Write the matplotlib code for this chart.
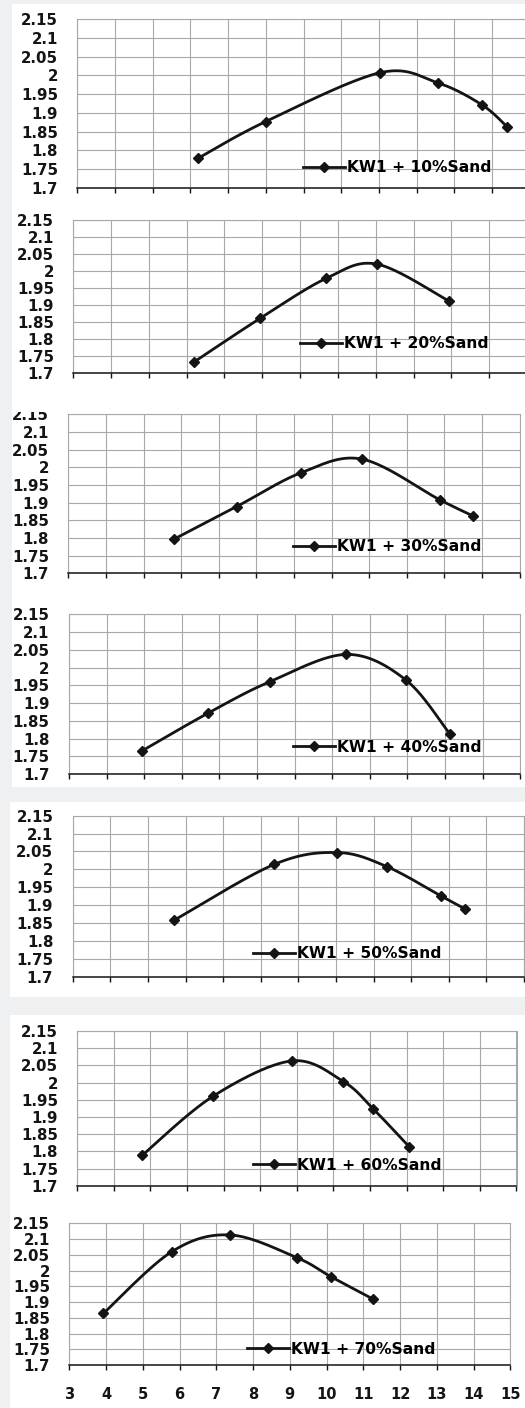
import numpy as np
import matplotlib.pyplot as plt
from matplotlib.patches import Rectangle
from matplotlib.lines import Line2D
from matplotlib.ticker import FuncFormatter

plt.rcParams['font.family'] = ['DejaVu Sans']
plt.rcParams['font.weight'] = 'bold'

W, H = 525, 1408

# Water content (%) and dry density for each sand mix
mixes = ['KW1 + 10%Sand', 'KW1 + 20%Sand', 'KW1 + 30%Sand', 'KW1 + 40%Sand',
         'KW1 + 50%Sand', 'KW1 + 60%Sand', 'KW1 + 70%Sand']

w_10 = [6.2, 8.0, 11.03, 12.56, 13.74, 14.41]
d_10 = [1.779, 1.877, 2.007, 1.980, 1.921, 1.862]

w_20 = [6.2, 7.94, 9.69, 11.03, 12.94]
d_20 = [1.732, 1.860, 1.978, 2.020, 1.911]

w_30 = [5.80, 7.48, 9.20, 10.82, 12.88, 13.77]
d_30 = [1.796, 1.889, 1.985, 2.023, 1.908, 1.862]

w_40 = [4.94, 6.69, 8.34, 10.38, 11.96, 13.13]
d_40 = [1.765, 1.871, 1.960, 2.037, 1.965, 1.812]

w_50 = [5.70, 8.36, 10.04, 11.35, 12.79, 13.44]
d_50 = [1.858, 2.014, 2.047, 2.008, 1.926, 1.889]

w_60 = [4.78, 6.72, 8.86, 10.27, 11.09, 12.07]
d_60 = [1.789, 1.961, 2.063, 2.003, 1.923, 1.813]

w_70 = [3.93, 5.79, 7.38, 9.19, 10.11, 11.27]
d_70 = [1.864, 2.060, 2.113, 2.041, 1.981, 1.909]

series = [(w_10, d_10), (w_20, d_20), (w_30, d_30), (w_40, d_40),
          (w_50, d_50), (w_60, d_60), (w_70, d_70)]

x_ticks = list(range(3, 16))
y_ticks = [1.7, 1.75, 1.8, 1.85, 1.9, 1.95, 2.0, 2.05, 2.1, 2.15]

# panel geometry in pixels: left, top, bottom, column step, legend x, legend y
panels = [
    (77.3, 19.0, 188.0, 37.7, 303, 168),
    (73.3, 220.0, 372.7, 37.8, 300, 344),
    (68.3, 414.3, 573.3, 37.6, 293, 547),
    (69.0, 614.3, 774.0, 37.6, 293, 747),
    (72.7, 815.7, 976.7, 37.6, 253, 954),
    (77.3, 1031.0, 1185.7, 36.6, 253, 1165),
    (69.3, 1223.3, 1365.0, 36.75, 247, 1349),
]


def smooth(x, y, n=40):
    # bezier smoothing of the polyline (same style as a spreadsheet "smoothed line")
    p = np.column_stack([x, y]).astype(float)
    out = [p[0]]
    t = np.linspace(0, 1, n)[1:, None]
    for i in range(len(p) - 1):
        p0 = p[i - 1] if i > 0 else p[i]
        p1, p2 = p[i], p[i + 1]
        p3 = p[i + 2] if i + 2 < len(p) else p[i + 1]
        c1 = p1 + (p2 - p0) / 6
        c2 = p2 - (p3 - p1) / 6
        seg = (1 - t) ** 3 * p1 + 3 * (1 - t) ** 2 * t * c1 + 3 * (1 - t) * t ** 2 * c2 + t ** 3 * p2
        out.extend(seg)
    out = np.array(out)
    return out[:, 0], out[:, 1]


fig = plt.figure(figsize=(W / 100, H / 100), dpi=100)
fig.patch.set_facecolor('#eff0f2')

# white chart backgrounds
for x0, y0, y1 in [(12, 4, 787), (10, 802, 997), (10, 1015, 1408)]:
    fig.add_artist(Rectangle((x0 / W, 1 - y1 / H), (W - x0) / W, (y1 - y0) / H,
                             transform=fig.transFigure, facecolor='white',
                             edgecolor='none', zorder=-1))

grid_c = '#a8a8a8'
ink = '#141414'

for k, ((xs, ys), (left, top, bottom, step, lx, ly)) in enumerate(zip(series, panels)):
    ax = fig.add_axes([left / W, 1 - bottom / H, 12 * step / W, (bottom - top) / H])
    ax.set_facecolor('none')
    ax.set_xlim(3, 15)
    ax.set_ylim(1.7, 2.15)
    ax.set_xticks(x_ticks)
    ax.set_yticks(y_ticks)
    ax.grid(True, color=grid_c, linewidth=0.8)
    ax.set_axisbelow(True)
    for s in ['top', 'left', 'right']:
        ax.spines[s].set_color(grid_c)
        ax.spines[s].set_linewidth(0.8)
    ax.spines['bottom'].set_color(ink)
    ax.spines['bottom'].set_linewidth(1.1)
    ax.yaxis.set_major_formatter(FuncFormatter(lambda v, _: f'{round(v, 2):g}'))
    ax.tick_params(axis='y', length=0, pad=14, labelsize=10.8, labelcolor=ink)
    ax.tick_params(axis='x', direction='out', length=3.5, width=1, color=ink,
                   pad=12, labelsize=10.5, labelcolor=ink,
                   labelbottom=(k == len(series) - 1))

    sx, sy = smooth(xs, ys)
    ax.plot(sx, sy, color=ink, lw=2.0, solid_capstyle='round', zorder=3)
    ax.plot(xs, ys, 'D', color=ink, ms=5, zorder=4)

    handle = Line2D([], [], color=ink, lw=2.0, marker='D', ms=5)
    ax.legend([handle], [mixes[k]], loc='center left',
              bbox_to_anchor=(lx / W, 1 - ly / H), bbox_transform=fig.transFigure,
              frameon=False, handlelength=2.7, handletextpad=0.1, borderpad=0,
              borderaxespad=0, numpoints=1,
              prop=dict(weight='bold', size=11.2))

# the chart above overlaps the top of the third chart
fig.add_artist(Rectangle((12 / W, 1 - 411.5 / H), 56 / W, 11.5 / H,
                         transform=fig.transFigure, facecolor='white',
                         edgecolor='none', zorder=5))

fig.savefig('out.png', dpi=100)
